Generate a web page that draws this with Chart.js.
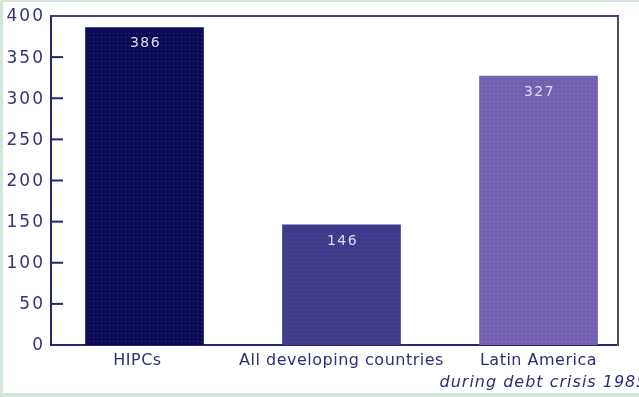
<!DOCTYPE html>
<html>
<head>
<meta charset="utf-8">
<script src="https://cdn.jsdelivr.net/npm/chart.js@4/dist/chart.umd.min.js"></script>
<style>
  html, body { margin: 0; padding: 0; background: #d4e6dc; }
  #wrap { position: absolute; left: 0; top: 0; width: 639px; height: 397px; }
</style>
</head>
<body>
<div id="wrap"><canvas id="c" width="639" height="397"></canvas></div>
<script>
// Debt ratios, per cent
const categories = [
  ["HIPCs"],
  ["All developing countries"],
  ["Latin America", "during debt crisis 1985"]
];
const debtRatios = [386, 146, 327];
const yTickValues = [0, 50, 100, 150, 200, 250, 300, 350, 400];

const NAVY = '#262670';
const ctx = document.getElementById('c').getContext('2d');

// Dithered fills for the bars
function dotted(base, dot) {
  const t = document.createElement('canvas');
  t.width = 4; t.height = 4;
  const g = t.getContext('2d');
  g.fillStyle = base; g.fillRect(0, 0, 4, 4);
  g.fillStyle = dot; g.fillRect(1, 1, 1, 1);
  return ctx.createPattern(t, 'repeat');
}
const barFills = [
  dotted('#0b0b55', '#3a2f85'),
  dotted('#3e3a8a', '#6a3fa8'),
  dotted('#6f60b0', '#b067c0')
];

const decorations = {
  id: 'decorations',
  beforeDraw(chart) {
    const c = chart.ctx;
    c.save();
    c.fillStyle = '#ffffff';
    c.fillRect(3, 2, 636, 391);
    c.restore();
  },
  afterDraw(chart) {
    const c = chart.ctx;
    const { left, right, top, bottom } = chart.chartArea;
    const xs = chart.scales.x, ys = chart.scales.y;
    c.save();

    // frame: top and right edges
    c.lineWidth = 2;
    c.strokeStyle = '#463c86';
    c.beginPath(); c.moveTo(left, top); c.lineTo(right + 1, top); c.stroke();
    c.strokeStyle = '#4e4e5c';
    c.beginPath(); c.moveTo(right, top); c.lineTo(right, bottom + 1); c.stroke();

    // inward tick marks and value labels on the y axis
    c.strokeStyle = NAVY;
    c.fillStyle = '#34347c';
    c.font = '17px "DejaVu Sans"';
    c.letterSpacing = '2px';
    c.textAlign = 'right';
    c.textBaseline = 'middle';
    yTickValues.forEach(v => {
      const y = ys.getPixelForValue(v);
      if (v > 0 && v < 400) {
        c.beginPath(); c.moveTo(left, y); c.lineTo(left + 12, y); c.stroke();
      }
      c.fillText(String(v), 45, y + 1);
    });

    // category labels
    c.fillStyle = '#2e2e78';
    c.textAlign = 'center';
    c.textBaseline = 'alphabetic';
    const shifts = [-7, 0, 0];
    categories.forEach((lines, i) => {
      const cx = xs.getPixelForValue(i) + shifts[i];
      lines.forEach((t, j) => {
        if (j === 0) {
          c.font = '16px "DejaVu Sans"';
          c.letterSpacing = '0.5px';
          c.fillText(t, cx, 365);
        } else {
          c.font = 'italic 16px "DejaVu Sans"';
          c.letterSpacing = '1px';
          c.fillText(t, cx + 5, 387);
        }
      });
    });

    // value labels inside the bars
    const meta = chart.getDatasetMeta(0);
    c.fillStyle = '#dcdcf2';
    c.font = '14px "DejaVu Sans"';
    c.letterSpacing = '1.5px';
    c.textBaseline = 'middle';
    meta.data.forEach((bar, i) => {
      c.fillText(String(debtRatios[i]), bar.x + 1, bar.y + 16);
    });
    c.restore();
  }
};

new Chart(ctx, {
  type: 'bar',
  data: {
    datasets: [{
      data: debtRatios.map((v, i) => ({ x: i, y: v })),
      backgroundColor: barFills,
      borderWidth: 0,
      barThickness: 118
    }]
  },
  options: {
    responsive: false,
    animation: false,
    devicePixelRatio: 1,
    layout: { padding: { top: 16, right: 21, left: 0, bottom: 0 } },
    plugins: { legend: { display: false }, tooltip: { enabled: false } },
    scales: {
      x: {
        type: 'linear',
        offset: false,
        min: -0.4746,
        max: 2.4036,
        grid: { display: false, offset: false },
        ticks: { display: false },
        border: { display: true, color: NAVY, width: 2 },
        afterFit: s => { s.height = 52; }
      },
      y: {
        min: 0,
        max: 400,
        ticks: { display: false, stepSize: 50 },
        grid: { display: false },
        border: { display: true, color: NAVY, width: 2 },
        afterFit: s => { s.width = 51; }
      }
    }
  },
  plugins: [decorations]
});
</script>
</body>
</html>
